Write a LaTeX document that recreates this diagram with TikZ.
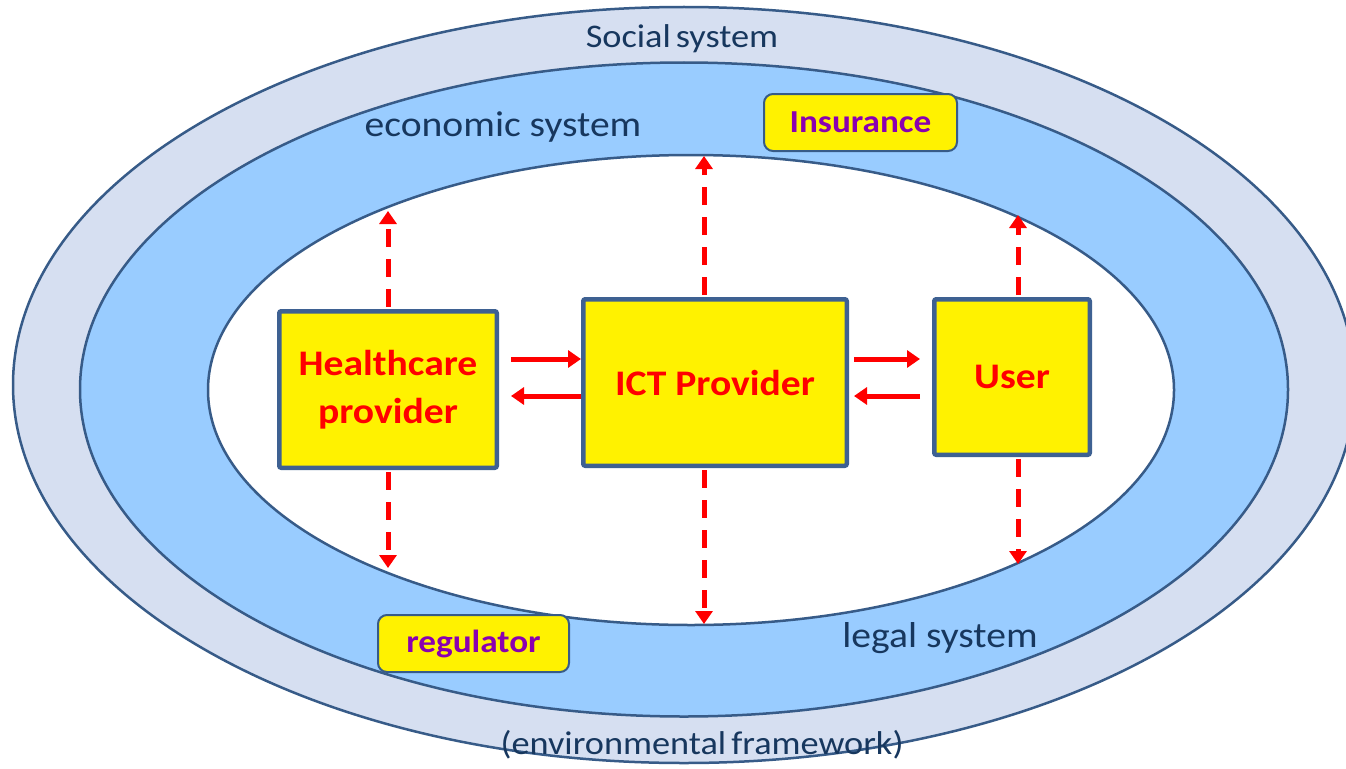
\documentclass[tikz,border=0pt]{standalone}
\usepackage{fontspec}
\setmainfont{Carlito}[FakeStretch=1.1]
\usetikzlibrary{arrows.meta}
\definecolor{bandout}{HTML}{D6DFF1}
\definecolor{bandmid}{HTML}{99CCFF}
\definecolor{rim}{HTML}{375B88}
\definecolor{navy}{HTML}{17375E}
\definecolor{boxrim}{HTML}{3E6192}
\definecolor{purp}{HTML}{8A00B0}
\begin{document}
\begin{tikzpicture}[x=1pt,y=-1pt,
 ring/.style={draw=rim,line width=2.5pt},
 actor/.style={draw=boxrim,line width=4.5pt,fill=yellow,rounded corners=2pt,text=red,
   font=\fontsize{36}{48}\selectfont\bfseries,align=center,inner sep=0pt},
 tag/.style={draw=rim,line width=2pt,fill=yellow,rounded corners=9pt,text=purp,
   font=\fontsize{32}{36}\selectfont\bfseries,inner sep=0pt},
 lbl/.style={text=navy,inner sep=0pt,anchor=base},
 flow/.style={draw=red,line width=5pt,-{Triangle[length=13pt,width=17pt]}},
 link/.style={draw=red,line width=5pt,dash pattern=on 18pt off 12pt,shorten <=2pt,
   -{Triangle[length=13pt,width=17pt]}}]
\useasboundingbox (0,0) rectangle (1346,768);
\fill[white] (0,0) rectangle (1346,768);
% system rings
\draw[ring,fill=bandout] (684,385) ellipse [x radius=671, y radius=378];
\draw[ring,fill=bandmid] (684,389.5) ellipse [x radius=604, y radius=327];
\draw[ring,fill=white] (691,390) ellipse [x radius=483, y radius=235];
% ring labels
\node[lbl,font=\fontsize{33}{36}\selectfont] (social) at (682,48) {Social\hspace{5pt}system};
\node[lbl,font=\fontsize{36}{40}\selectfont] (econ) at (503,136) {economic system};
\node[lbl,font=\fontsize{36}{40}\selectfont] (legal) at (940,647) {legal system};
\node[lbl,font=\fontsize{33}{36}\selectfont] (env) at (702,754) {(environmental\hspace{5pt}framework)};
% actors
\node[actor,minimum width=217.5pt,minimum height=156.5pt] (hc) at (388,389.5) {Healthcare\\provider};
\node[actor,minimum width=263.5pt,minimum height=166.5pt] (ict) at (715,382.5) {ICT Provider};
\node[actor,minimum width=155.5pt,minimum height=155.5pt] (usr) at (1012,377) {User};
% tags
\node[tag,minimum width=193pt,minimum height=57pt] (ins) at (860.5,122.5) {Insurance};
\node[tag,minimum width=191pt,minimum height=57pt] (reg) at (473.5,643.5) {regulator};
% horizontal flows
\path ([xshift=12pt,yshift=30.5pt]hc.east) coordinate (a1);
\path ([xshift=12pt,yshift=-6.5pt]hc.east) coordinate (a2);
\path ([xshift=5pt,yshift=23.5pt]ict.east) coordinate (b1);
\path ([xshift=5pt,yshift=-13.5pt]ict.east) coordinate (b2);
\path ([xshift=-12pt]usr.west) coordinate (uw);
\draw[flow] (a1) -- (a1 -| ict.west);
\draw[flow] (a2 -| ict.west) -- (a2);
\draw[flow] (b1) -- (b1 -| uw);
\draw[flow] (b2 -| uw) -- (b2);
% links to the surrounding systems
\coordinate (hcU) at (388,211);
\coordinate (hcD) at (388,568);
\coordinate (ictU) at (704,156);
\coordinate (ictD) at (704,624);
\coordinate (usrU) at (1018,215);
\coordinate (usrD) at (1018,564);
\draw[link] (hc.north) -- (hcU);
\draw[link] (hc.south) -- (hcD);
\draw[link] ([xshift=-11pt]ict.north) -- (ictU);
\draw[link] ([xshift=-11pt]ict.south) -- (ictD);
\draw[link] ([xshift=6pt]usr.north) -- (usrU);
\draw[link] ([xshift=6pt]usr.south) -- (usrD);
\end{tikzpicture}
\end{document}
